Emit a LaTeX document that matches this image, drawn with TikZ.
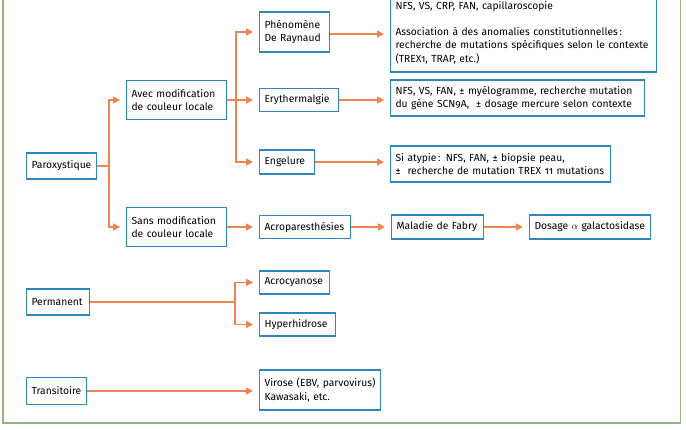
\documentclass[tikz,border=0pt]{standalone}
\usepackage{fontspec}
\setmainfont[Numbers=OldStyle]{Fira Sans}
\usetikzlibrary{arrows.meta,calc}
\definecolor{boxblue}{HTML}{2F86B8}
\definecolor{arrorange}{HTML}{EE8452}
\definecolor{framegreen}{HTML}{8FB283}
\tikzset{
  box/.style={draw=boxblue, line width=1.1pt, align=left, inner xsep=5pt, inner ysep=0pt, anchor=west,
    font=\fontsize{10.3}{13.3}\selectfont},
  arr/.style={draw=arrorange, line width=1.6pt, shorten >=6pt, -{Triangle[length=7pt,width=7pt]}},
  ln/.style={draw=arrorange, line width=1.6pt}
}
\begin{document}
\begin{tikzpicture}[x=1pt,y=-1pt]
\useasboundingbox (0,0) rectangle (686,430);
\clip (0,0) rectangle (686,430);
\fill[white] (0,0) rectangle (686,430);
\draw[framegreen, line width=1.5pt] (3,-20) rectangle (680.5,423);
% nodes
\node[box, text width=60pt, minimum height=26pt] (parox) at (26,166) {\mbox{Paroxystique}};
\node[box, text width=90pt, minimum height=39pt] (avec) at (126,100) {Avec modification\\de couleur locale};
\node[box, text width=90pt, minimum height=39pt] (sans) at (126,227) {Sans modification\\de couleur locale};
\node[box, text width=60pt, minimum height=40pt] (ray) at (259,32) {Phénomène\\De Raynaud};
\node[box, text width=69pt, minimum height=23pt] (ery) at (259,100) {\mbox{Erythermalgie}};
\node[box, text width=45pt, minimum height=24pt] (eng) at (259,162) {\mbox{Engelure}};
\node[box, text width=81pt, minimum height=23pt] (acro) at (259,227) {\mbox{Acroparesthésies}};
\node[box, text width=82pt, minimum height=24pt] (fabry) at (391,227) {\mbox{Maladie de Fabry}};
\node[box, text width=111pt, minimum height=24pt] (dosage) at (529,227) {\mbox{Dosage $\alpha$ galactosidase}};
\node[box, text width=60pt, minimum height=23pt] (acrocy) at (259,282.5) {\mbox{Acrocyanose}};
\node[box, text width=66pt, minimum height=23pt] (hyper) at (259,324.5) {\mbox{Hyperhidrose}};
\node[box, text width=53pt, minimum height=26pt] (perm) at (26,302) {\mbox{Permanent}};
\node[box, text width=50pt, minimum height=27pt] (trans) at (26,391) {\mbox{Transitoire}};
\node[box, text width=111pt, minimum height=40pt] (virose) at (259,390) {Virose (EBV, parvovirus)\\Kawasaki, etc.};
\node[box, text width=256pt, minimum height=79pt] (rayinfo) at (390,32.5) {NFS, VS, CRP, FAN, capillaroscopie\\[13.3pt]Association à des anomalies constitutionnelles\,:\\recherche de mutations spécifiques selon le contexte\\(TREX1, TRAP, etc.)};
\node[box, text width=244pt, minimum height=36pt] (eryinfo) at (390,98) {NFS, VS, FAN, ± myélogramme, recherche mutation\\du gène SCN9A,\ \ ± dosage mercure selon contexte};
\node[box, text width=210pt, minimum height=36pt] (enginfo) at (390,164) {Si atypie\,: NFS, FAN, ± biopsie peau,\\±\ \ recherche de mutation TREX 11 mutations};
% connectors
\coordinate (b1) at ($(parox.east)+(12,0)$);
\draw[ln] (parox.east) -- (b1);
\draw[arr] (b1) |- (avec.west);
\draw[arr] (b1) |- (sans.west);
\coordinate (b2) at ($(avec.east)+(9,0)$);
\draw[ln] (avec.east) -- (b2);
\draw[arr] (b2) |- (ray.west);
\draw[arr] (b2) |- (ery.west);
\draw[arr] (b2) |- (eng.west);
\draw[arr] (sans.east) -- (acro.west);
\draw[arr] (acro.east) -- (fabry.west);
\draw[arr] (fabry.east) -- (dosage.west);
\draw[arr] ([yshift=-2pt]ray.east) -- ([yshift=-2pt]ray.east -| rayinfo.west);
\draw[arr] (ery.east) -- (ery.east -| eryinfo.west);
\draw[arr] (eng.east) -- (eng.east -| enginfo.west);
\coordinate (b3) at (235,302);
\draw[ln] (perm.east) -- (b3);
\draw[arr] (b3) |- (acrocy.west);
\draw[arr] (b3) |- (hyper.west);
\draw[arr] (trans.east) -- (trans.east -| virose.west);
\end{tikzpicture}
\end{document}
